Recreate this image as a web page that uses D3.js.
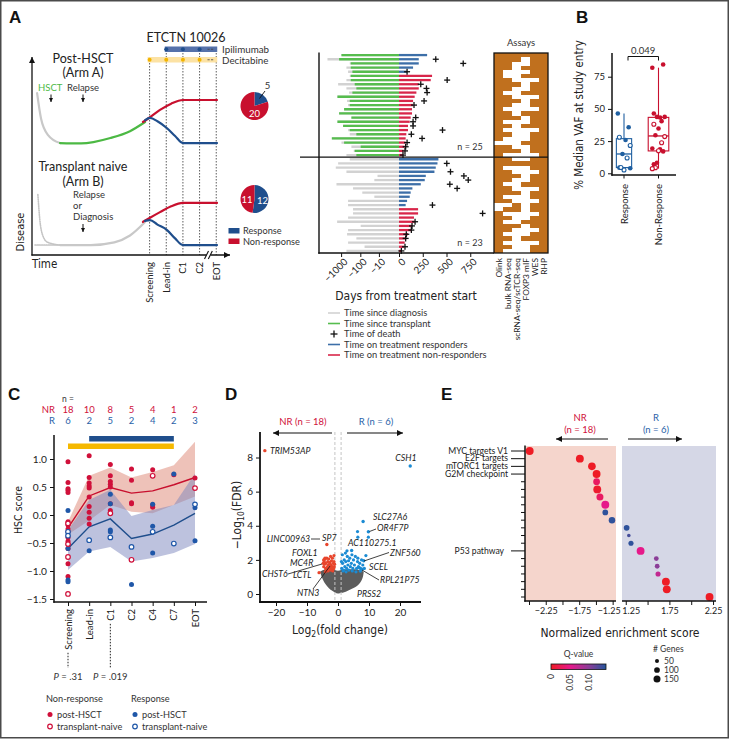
<!DOCTYPE html>
<html>
<head>
<meta charset="utf-8">
<script src="https://cdn.jsdelivr.net/npm/d3@7/dist/d3.min.js"></script>
<style>
html,body{margin:0;padding:0;background:#fff;}
svg{display:block;}
</style>
</head>
<body>
<svg id="fig" width="730" height="740"></svg>
<script>
// ================= DATA =================
// Panel A – schematic (time units 0-100, disease units 0-100)
const schemMilestones = ["Screening", "Lead-in", "C1", "C2", "EOT"];
const schemMilestoneTime = [60, 68.5, 77, 85.5, 94];
const ipiDoses = [1, 2, 3];
const deciDoses = [0, 1, 2, 3];
const armAPre = [[2.6, 83], [4.6, 70], [8.2, 61.5], [14.3, 57.4]];
const armAPost = [[14.3, 57.4], [25, 57.2], [40, 60], [50, 63.5], [57.7, 68.2]];
const armANonResp = [[56.6, 68.2], [60, 70.5], [65.3, 74.4], [71, 77.6], [77, 79.5], [94.4, 79.5]];
const armAResp = [[57.7, 69.2], [60.2, 70.3], [64, 68.6], [68.9, 65], [73, 61], [77, 57.4], [94.4, 57.4]];
const armBPreDotted = [[3, 31], [4, 18], [5.5, 10], [8, 6.5], [14.3, 5.1]];
const armBBaseDotted = [[1.5, 5.1], [14.3, 5.1]];
const armBPre = [[14.3, 5.1], [30, 5.1], [42, 6.5], [50, 10], [57.7, 16.9]];
const armBNonResp = [[56.6, 17], [60, 19], [65.3, 22], [71, 25], [77, 26.7], [94.4, 26.7]];
const armBResp = [[57.7, 17.5], [60.2, 17.9], [64, 15.6], [68.9, 12.8], [73, 8.5], [77, 5.1], [94.4, 5.1]];
const pieCategories = ["Response", "Non-response"];
const pieArmA = [5, 20];
const pieArmB = [12, 11];

// Panel A – swimmer plot (days)
const swimDiagnosis = [960,5100,356,530,435,356,530,1430,530,385,1550,490,435,700,1270,292,1550,790,435,356,3020,960,292,221,530,
  356,1430,1890,530,12,18,1740,240,79,18,435,435,240,240,435,1610,96,435,490,161,435,60,530];
const swimTransplant = [960,1270,316,316,259,316,316,196,161,259,1550,356,356,700,1270,292,1550,790,356,161,3020,700,96,196,161,
  null,null,null,null,null,null,null,null,null,null,null,null,null,null,null,null,null,null,null,null,null,null,null];
const swimTreatment = [296,208,208,148,85,348,334,208,208,183,165,148,148,137,137,123,113,95,95,77,70,70,60,49,42,
  415,405,387,373,282,271,229,141,123,113,85,70,201,201,158,165,141,130,95,77,60,53,25];
const swimResponse = [1,1,1,1,1,0,0,0,0,0,0,0,0,0,0,0,0,0,0,0,0,0,0,0,0,
  1,1,1,1,1,1,1,1,1,1,1,1,0,0,0,0,0,0,0,0,0,0,0];
const swimDeath = [null,387,676,null,85,null,507,229,289,296,null,264,158,null,null,176,148,148,458,130,243,85,70,63,42,
  null,503,null,542,683,729,535,612,null,null,null,352,null,880,null,169,137,130,77,70,null,63,25];
const swimTicks = [-1000, -100, -10, 0, 250, 500, 750];
const assayNames = ["Olink", "bulk RNA-seq", "scRNA-seq/scTCR-seq", "FOXP3 mIF", "WES", "RHP"];
const assayMatrix = ["111111","111011","110011","110111","100011","100111","110001","111011","110011","100111",
  "110001","111011","110011","100001","110111","111011","100011","110111","100001","110011","100011","000111",
  "110011","111011","100001",
  "110011","111111","100011","110001","111011","110011","100111","110001","111011","100011","110001","001011",
  "011011","100001","110011","100111","111011","110001","100011","110111","100001","110011","100011"];

// Panel B – median VAF (%)
const bGroups = ["Response", "Non-Response"];
const bRespPost = [46.4, 35.8, 25.8, 15, 4.4, 3.9];
const bRespNaive = [28, 21.6, 11.9, 2.6, 4.5];
const bNRPost = [82, 84.5, 43.3, 43.8, 46.4, 43.8, 40.5, 34.8, 29.5, 19.3, 17, 18.6, 8.2, 7];
const bNRNaive = [38.1, 28.5, 23.7, 17.5, 4.4, 3.6];
const bTicks = [0, 25, 50, 75];
const bPValue = "0.049";

// Panel C – HSC score
const cTimes = ["Screening", "Lead-in", "C1", "C2", "C4", "C7", "EOT"];
const cNRn = [18, 10, 8, 5, 4, 1, 2];
const cRn = [6, 2, 5, 2, 4, 2, 3];
const cNRmean = [-0.23, 0.34, 0.49, 0.39, 0.43, 0.54, 0.67];
const cNRlo = [-0.35, -0.10, 0.18, 0.06, 0.03, 0.18, 0.33];
const cNRhi = [-0.12, 0.70, 0.85, 0.67, 0.77, 0.89, 1.31];
const cRmean = [-0.60, -0.21, -0.07, -0.42, -0.34, -0.18, 0.03];
const cRlo = [-0.98, -0.65, -0.57, -0.83, -0.77, -0.68, -0.52];
const cRhi = [-0.27, 0.27, 0.45, -0.02, 0.09, 0.18, 0.74];
const cNRpost = [[0,0.95],[0,0.58],[0,0.47],[0,0.44],[0,0.40],[0,-0.12],[0,-0.18],[0,-0.25],[0,-0.30],[0,-0.40],[0,-0.47],[0,-0.60],[0,-0.87],[0,-1.10],
  [1,1.06],[1,0.67],[1,0.57],[1,0.52],[1,0.48],[1,0.32],[1,0.15],[1,0.05],[1,-0.06],[1,-0.16],
  [2,0.90],[2,0.70],[2,0.60],[2,0.55],[2,0.50],[2,0.20],[2,0.08],
  [3,0.82],[3,0.62],[3,0.22],[3,0.20],[4,0.81],[4,0.18],[4,0.14],[5,0.72],[6,0.66]];
const cNRnaive = [[0,-0.15],[0,-0.52],[0,-0.75],[0,-1.41],[2,0.03],[3,-0.80],[4,0.70],[6,0.48]];
const cRpost = [[0,0.08],[0,-0.60],[0,-1.16],[0,-1.19],[1,-0.64],[2,0.37],[2,0.20],[2,-0.27],[2,-0.30],[3,-1.24],
  [4,0.19],[4,-0.20],[4,-0.68],[5,0.73],[6,0.13],[6,-0.46]];
const cRnaive = [[0,-0.30],[0,-0.37],[1,-0.45],[2,-0.40],[3,-0.57],[4,-0.30],[5,-0.51],[6,0.19]];
const cTicks = [-1.5, -1, -0.5, 0, 0.5, 1];
const cPValues = [["Screening", ".31"], ["C1", ".019"]];

// Panel D – volcano
const dBlobFC = [-5.8,-5,-4,-3,-2,-1,0,1,2,3,4,5,6,7,8,8.3];
const dBlobLow = [1.3,0.85,0.55,0.35,0.2,0.08,0.02,0.05,0.1,0.18,0.27,0.35,0.45,0.6,0.9,1.3];
const dBlobHigh = [1.3,1.4,1.45,1.45,1.45,1.4,1.35,1.4,1.45,1.45,1.45,1.45,1.45,1.4,1.35,1.3];
const dRedPts = [[-4.5,1.95],[-4.2,2.05],[-3.9,1.8],[-3.6,2.1],[-3.3,1.9],[-3.0,2.05],[-2.7,1.75],[-2.4,2.2],[-2.1,1.95],
  [-1.8,2.1],[-1.5,1.8],[-1.2,1.6],[-4.6,1.6],[-4.0,1.5],[-3.4,1.6],[-2.9,1.45],[-2.5,1.55],[-2.0,1.5],[-1.6,1.45],
  [-1.3,1.9],[-4.3,1.75],[-3.8,1.4],[-3.1,1.7],[-2.6,1.85],[-2.2,1.7],[-1.9,1.6],[-1.4,1.5],[-1.1,1.75],[-3.5,1.45],
  [-4.8,1.8],[-2.3,1.4],[-1.7,1.35],[-1.3,2.25],[-3.2,1.35],[-4.1,1.3]];
const dBluePts = [[1.2,1.5],[1.5,1.8],[1.8,1.4],[2.0,2.0],[2.2,1.6],[2.5,1.9],[2.8,1.5],[3.0,2.2],[3.2,1.7],[3.5,1.4],
  [3.8,2.1],[4.0,1.6],[4.3,1.8],[4.8,1.5],[5.0,2.0],[5.3,1.7],[5.6,2.2],[6.0,1.5],[6.3,1.9],[6.6,1.6],[7.0,1.8],
  [7.3,1.5],[7.6,2.0],[8.0,1.7],[8.5,1.5],[1.4,2.3],[2.9,2.53],[2.4,2.4],[6.3,3.66],[6.4,3.33],[9.8,3.33],[9.0,2.25],
  [6.4,2.1],[1.6,1.35],[2.6,1.3],[4.6,1.35],[5.8,1.3],[3.4,1.95],[4.5,2.3],[1.1,1.9]];
const dGenes = ["TRIM53AP","CSH1","SLC27A6","OR4F7P","AC110275.1","ZNF560","SCEL","RPL21P75","PRSS2","SP7","LINC00963","FOXL1","MC4R","CHST6","LCTL","NTN3"];
const dGeneFC = [-23.6, 23.3, 8.1, 9.8, 4.4, 8.3, 6.8, 7.8, 7.2, -3.6, -4.2, -4.6, -4.4, -2.6, -6.1, -2.0];
const dGeneFDR = [8.4, 7.5, 4.25, 3.65, 2.55, 1.95, 1.55, 1.45, 1.35, 2.9, 2.1, 2.0, 1.85, 1.75, 1.25, 1.55];
const dXTicks = [-20, -10, 0, 10, 20];
const dYTicks = [0, 2, 4, 6, 8];

// Panel E – GSEA
const eTerms = ["MYC targets V1","E2F targets","mTORC1 targets","G2M checkpoint","","","","","","","","","","P53 pathway","","","","","",""];
const eNES = [-2.49,-1.74,-1.56,-1.49,-1.49,-1.48,-1.44,-1.36,-1.36,-1.26,1.26,1.285,1.31,1.42,1.60,1.61,1.62,1.71,1.72,2.21];
const eQ = [0,0,0,0,0.03,0.005,0.03,0.05,0.14,0.14,0.14,0.13,0.14,0.05,0.10,0.10,0.07,0,0,0];
const eGenes = [190,190,180,190,140,190,150,190,100,130,100,40,80,190,70,70,80,190,190,190];
const eLeftTicks = [-2.5,-2.25,-2,-1.75,-1.5,-1.25];
const eRightTicks = [1.25,1.5,1.75,2,2.25];
const eLabelled = [-2.25,-1.75,-1.25,1.25,1.75,2.25];
const eQTicks = [0, 0.05, 0.10];
const eSizeTicks = [50, 100, 150];

// ================= DRAWING =================
const svg = d3.select("#fig");
const FONT = "Lato, 'Open Sans', 'DejaVu Sans', sans-serif";
const NARROW = "'Liberation Sans Narrow', 'Arial Narrow', 'DejaVu Sans Condensed', 'Roboto Condensed', Roboto, sans-serif";
const RED = "#c8102e", BLUE = "#1f4e8c", TXTRED = "#d0103a", TXTBLUE = "#2a62a8";

svg.append("rect").attr("width", 730).attr("height", 740).attr("fill", "#fff");
svg.append("rect").attr("x", 0.75).attr("y", 0.75).attr("width", 727.5).attr("height", 737)
  .attr("fill", "none").attr("stroke", "#4a4a4a").attr("stroke-width", 1.5);

const defs = svg.append("defs");
function addMarker(id, color, w, h) {
  defs.append("marker").attr("id", id).attr("viewBox", "0 0 10 10").attr("refX", 10).attr("refY", 5)
    .attr("markerWidth", w).attr("markerHeight", h).attr("markerUnits", "userSpaceOnUse").attr("orient", "auto")
    .append("path").attr("d", "M0,0L10,5L0,10Z").attr("fill", color);
}
addMarker("arrK", "#111", 7, 6);
addMarker("arrS", "#111", 4.5, 4.5);

function txt(g, x, y, s, o = {}) {
  const t = g.append("text").attr("x", x).attr("y", y).text(s)
    .attr("font-size", o.size || 10).attr("font-family", o.fam || FONT)
    .attr("fill", o.fill || "#222").attr("text-anchor", o.anchor || "start");
  if (o.weight) t.attr("font-weight", o.weight);
  if (o.style) t.attr("font-style", o.style);
  if (o.rot != null) t.attr("transform", `rotate(${o.rot},${x},${y})`);
  return t;
}
function ln(g, x1, y1, x2, y2, c = "#111", w = 1) {
  return g.append("line").attr("x1", x1).attr("y1", y1).attr("x2", x2).attr("y2", y2)
    .attr("stroke", c).attr("stroke-width", w);
}
function styleAxis(g, size) {
  g.attr("color", "#111");
  g.selectAll("text").attr("font-size", size).attr("font-family", FONT).attr("fill", "#222");
  g.selectAll(".domain").remove();
}

// panel letters
[["A", 9, 23], ["B", 576, 23], ["C", 8, 400], ["D", 225, 400], ["E", 441, 400]].forEach(([l, x, y]) =>
  txt(svg, x, y, l, { size: 17, weight: "bold", fam: "'Liberation Sans', Arial, sans-serif", fill: "#111" }));

// ---------- Panel A schematic ----------
const gA = svg.append("g");
const ax = d3.scaleLinear().domain([0, 100]).range([32, 228]);
const ay = d3.scaleLinear().domain([0, 100]).range([255, 60]);
const lineA = d3.line().x(d => ax(d[0])).y(d => ay(d[1])).curve(d3.curveMonotoneX);

schemMilestones.forEach((m, i) => {
  const x = ax(schemMilestoneTime[i]);
  gA.append("line").attr("x1", x).attr("x2", x).attr("y1", i === 0 ? 57 : 47).attr("y2", 255)
    .attr("stroke", "#333").attr("stroke-width", 0.8).attr("stroke-dasharray", "1.5,1.5");
  txt(gA, x + 3.5, 262, m, { size: 9.5, anchor: "end", rot: -90 });
});
// drug bars
const xLead = ax(schemMilestoneTime[1]), xScr = ax(schemMilestoneTime[0]), xEot = ax(schemMilestoneTime[4]);
gA.append("rect").attr("x", xLead - 1.5).attr("y", 46.5).attr("width", xEot - xLead + 2.5).attr("height", 5.5).attr("fill", "#5571aa");
gA.append("rect").attr("x", xScr - 2).attr("y", 57).attr("width", xEot - xScr + 3).attr("height", 5.5).attr("fill", "#fce2a4");
ipiDoses.forEach(i => gA.append("circle").attr("cx", ax(schemMilestoneTime[i])).attr("cy", 49.25).attr("r", 2).attr("fill", "#1f4e8c"));
deciDoses.forEach(i => gA.append("circle").attr("cx", ax(schemMilestoneTime[i])).attr("cy", 59.75).attr("r", 2).attr("fill", "#f2b400"));
[[207.5, 49.25], [207.5, 59.75]].forEach(([x, y]) => { ln(gA, x, y, x + 2.2, y, "#444", 0.8); ln(gA, x + 3.5, y, x + 5.7, y, "#444", 0.8); });
txt(gA, 186, 42, "ETCTN 10026", { size: 12.5, anchor: "middle" });
txt(gA, 222, 53, "Ipilimumab", { size: 9.8, fill: "#333" });
txt(gA, 222, 63.5, "Decitabine", { size: 9.8, fill: "#333" });

// axes
ln(gA, 32, 255.6, 32, 57, "#111", 1.3).attr("marker-end", "url(#arrK)");
ln(gA, 31.4, 255, 230, 255, "#111", 1.3).attr("marker-end", "url(#arrK)");
gA.append("rect").attr("x", 206.5).attr("y", 250).attr("width", 4).attr("height", 10).attr("fill", "#fff");
ln(gA, 204.5, 259, 208.5, 251, "#111", 1.1);
ln(gA, 208.3, 259, 212.3, 251, "#111", 1.1);
txt(gA, 32, 268, "Time", { size: 11.5, fam: NARROW });
txt(gA, 24, 232, "Disease", { size: 11, fam: NARROW, anchor: "middle", rot: -90 });

// arm A
txt(gA, 83, 63, "Post-HSCT", { size: 12.5, anchor: "middle" });
txt(gA, 83, 77, "(Arm A)", { size: 12.5, anchor: "middle" });
txt(gA, 38, 91, "HSCT", { size: 9.5, fill: "#4cb944" });
txt(gA, 67, 91, "Relapse", { size: 9.5, fill: "#333" });
ln(gA, 51, 94.5, 51, 102, "#111", 1).attr("marker-end", "url(#arrS)");
ln(gA, 83, 94.5, 83, 102, "#111", 1).attr("marker-end", "url(#arrS)");
const curve = (d, c, w, dash) => {
  const p = gA.append("path").attr("d", lineA(d)).attr("fill", "none").attr("stroke", c).attr("stroke-width", w).attr("stroke-linecap", "round");
  if (dash) p.attr("stroke-dasharray", dash);
};
curve(armAPre, "#c8c8c8", 2.2);
curve(armAPost, "#4cb944", 2.2);
curve(armANonResp, RED, 2.2);
curve(armAResp, BLUE, 2.2);
// arm B
txt(gA, 83, 171, "Transplant naive", { size: 12.5, anchor: "middle" });
txt(gA, 83, 186, "(Arm B)", { size: 12.5, anchor: "middle" });
txt(gA, 73, 198, "Relapse", { size: 9.5, fill: "#333" });
txt(gA, 73, 209, "or", { size: 9.5, fill: "#333" });
txt(gA, 73, 220, "Diagnosis", { size: 9.5, fill: "#333" });
ln(gA, 83, 224, 83, 232, "#111", 1).attr("marker-end", "url(#arrS)");
curve(armBPreDotted, "#c4c4c4", 1.6, "1,1.2");
curve(armBBaseDotted, "#c4c4c4", 1.6, "1,1.2");
curve(armBPre, "#c8c8c8", 2.2);
curve(armBNonResp, RED, 2.2);
curve(armBResp, BLUE, 2.2);

// pies
const pie = d3.pie().sort(null);
const arcP = d3.arc().innerRadius(0).outerRadius(14);
[[pieArmA, 106], [pieArmB, 199]].forEach(([vals, cy]) => {
  const g = gA.append("g").attr("transform", `translate(254.5,${cy})`);
  g.selectAll("path").data(pie(vals)).join("path").attr("d", arcP)
    .attr("fill", (d, i) => i === 0 ? "#1f4e8c" : "#c8102e");
});
txt(gA, 254.5, 117, String(pieArmA[1]), { size: 9.5, anchor: "middle", fill: "#fff" });
txt(gA, 267.5, 89, String(pieArmA[0]), { size: 9.5, anchor: "middle", fill: "#333" });
ln(gA, 265, 91, 259.5, 98.5, "#111", 0.9);
txt(gA, 247, 202.5, String(pieArmB[1]), { size: 9.5, anchor: "middle", fill: "#fff" });
txt(gA, 262.5, 203.5, String(pieArmB[0]), { size: 9.5, anchor: "middle", fill: "#fff" });
pieCategories.forEach((c, i) => {
  gA.append("rect").attr("x", 228.5).attr("y", 228 + i * 10.5).attr("width", 11).attr("height", 5.5)
    .attr("fill", i === 0 ? "#1f4e8c" : "#c8102e");
  txt(gA, 243, 234 + i * 10.5, c, { size: 9.2, fill: "#333" });
});

// ---------- Panel A swimmer ----------
const gS = svg.append("g");
const sxNeg = d3.scaleSymlog().domain([-14000, 0]).range([319, 399]);
const sxPos = d3.scaleLinear().domain([0, 1000]).range([399, 494]);
const sx = v => v < 0 ? sxNeg(v) : sxPos(v);
const sy = d3.scaleBand().domain(d3.range(swimTreatment.length)).range([53, 253]);
const rowY = i => sy(i) + sy.bandwidth() / 2;
const swimCol = { diag: "#d2d2d2", tx: "#56bd4e", resp: "#3d6fa8", nonresp: "#d8264a" };
swimTreatment.forEach((t, i) => {
  const y = rowY(i);
  ln(gS, sx(-swimDiagnosis[i]), y, sx(0), y, swimCol.diag, 2.3);
  if (swimTransplant[i] != null) ln(gS, sx(-swimTransplant[i]), y, sx(0), y, swimCol.tx, 2.3);
  ln(gS, sx(0), y, sx(t), y, swimResponse[i] ? swimCol.resp : swimCol.nonresp, 2.3);
});
swimDeath.forEach((d, i) => {
  if (d == null) return;
  const x = sx(d), y = rowY(i);
  ln(gS, x - 3, y, x + 3, y, "#111", 1.3);
  ln(gS, x, y - 3, x, y + 3, "#111", 1.3);
});
ln(gS, 319, 52.5, 319, 253.7, "#111", 1.4);
ln(gS, 318.3, 253, 494, 253, "#111", 1.4);
const swAxN = gS.append("g").attr("transform", "translate(0,253)")
  .call(d3.axisBottom(sxNeg).tickValues(swimTicks.filter(v => v < 0)).tickFormat(d3.format("d")).tickSize(4));
const swAxP = gS.append("g").attr("transform", "translate(0,253)")
  .call(d3.axisBottom(sxPos).tickValues(swimTicks.filter(v => v >= 0)).tickFormat(d3.format("d")).tickSize(4));
[swAxN, swAxP].forEach(g => {
  styleAxis(g, 9.8);
  g.selectAll("text").attr("transform", "rotate(-45)").attr("text-anchor", "end").attr("dx", "-0.2em").attr("dy", "0.45em");
});
txt(gS, 406, 300, "Days from treatment start", { size: 12, fam: NARROW, anchor: "middle" });
txt(gS, 470, 150, "n = 25", { size: 9, anchor: "middle", fill: "#333" });
txt(gS, 470, 246, "n = 23", { size: 9, anchor: "middle", fill: "#333" });

// assays heatmap
const hx = d3.scaleBand().domain(d3.range(assayNames.length)).range([494, 548]);
assayMatrix.forEach((row, i) => {
  row.split("").forEach((v, j) => {
    if (v === "1") gS.append("rect").attr("x", hx(j)).attr("y", sy(i)).attr("width", hx.bandwidth())
      .attr("height", sy.bandwidth() + 0.2).attr("fill", "#c0701e").attr("shape-rendering", "crispEdges");
  });
});
gS.append("rect").attr("x", 494).attr("y", 53).attr("width", 54).attr("height", 200)
  .attr("fill", "none").attr("stroke", "#111").attr("stroke-width", 1.3);
ln(gS, 300, 157.2, 548, 157.2, "#111", 1.3);
txt(gS, 521, 46, "Assays", { size: 9.5, anchor: "middle", fill: "#333" });
assayNames.forEach((n, j) => txt(gS, hx(j) + hx.bandwidth() / 2 + 3, 258, n, { size: 8.4, anchor: "end", rot: -90, fill: "#222" }));

// swimmer legend
const swLegend = [["line", swimCol.diag, "Time since diagnosis"], ["line", swimCol.tx, "Time since transplant"],
  ["plus", "#111", "Time of death"], ["line", swimCol.resp, "Time on treatment responders"],
  ["line", swimCol.nonresp, "Time on treatment non-responders"]];
swLegend.forEach(([k, c, s], i) => {
  const y = 313 + i * 10.5;
  if (k === "line") ln(gS, 328, y, 340, y, c, 1.6);
  else { ln(gS, 330.5, y, 337.5, y, c, 1.3); ln(gS, 334, y - 3.5, 334, y + 3.5, c, 1.3); }
  txt(gS, 344, y + 3.3, s, { size: 9.3, fill: "#333" });
});

// ---------- Panel B ----------
const gB = svg.append("g");
const by = d3.scaleLinear().domain([0, 75]).range([173.3, 76.7]);
const bx = d3.scalePoint().domain(bGroups).range([624, 658.5]);
const bAx = gB.append("g").attr("transform", "translate(612,0)").call(d3.axisLeft(by).tickValues(bTicks).tickSize(4));
styleAxis(bAx, 9.5);
ln(gB, 612, 53, 612, 175.7, "#111", 1.5);
ln(gB, 611.3, 175, 676, 175, "#111", 1.5);
txt(gB, 583, 115, "% Median VAF at study entry", { size: 11.5, fam: NARROW, anchor: "middle", rot: -90 });
const bSets = [[bRespPost, bRespNaive, "#1f5fa0"], [bNRPost, bNRNaive, "#c8102e"]];
bSets.forEach(([post, naive, col], gi) => {
  const cxB = bx(bGroups[gi]);
  const all = post.concat(naive).sort(d3.ascending);
  const q1 = d3.quantile(all, 0.25), med = d3.quantile(all, 0.5), q3 = d3.quantile(all, 0.75);
  const iqr = q3 - q1;
  const lo = d3.min(all.filter(v => v >= q1 - 1.5 * iqr)), hi = d3.max(all.filter(v => v <= q3 + 1.5 * iqr));
  const w = 4.6 * Math.sqrt(all.length);
  ln(gB, cxB, by(hi), cxB, by(q3), col, 1.1);
  ln(gB, cxB, by(q1), cxB, by(lo), col, 1.1);
  gB.append("rect").attr("x", cxB - w / 2).attr("y", by(q3)).attr("width", w).attr("height", by(q1) - by(q3))
    .attr("fill", "none").attr("stroke", col).attr("stroke-width", 1.1);
  ln(gB, cxB - w / 2, by(med), cxB + w / 2, by(med), col, 1.3);
  ln(gB, cxB, 175, cxB, 178.5, "#111", 1);
  const jit = i => (((i * 7) % 9) - 4) * 1.55;
  post.forEach((v, i) => gB.append("circle").attr("cx", cxB + jit(i)).attr("cy", by(v)).attr("r", 2.3).attr("fill", col));
  naive.forEach((v, i) => gB.append("circle").attr("cx", cxB + jit(i + 4)).attr("cy", by(v)).attr("r", 2)
    .attr("fill", "#fff").attr("stroke", col).attr("stroke-width", 1.1));
  txt(gB, cxB + 3.5, 184, bGroups[gi], { size: 9.5, anchor: "end", rot: -90 });
});
gB.append("path").attr("d", `M${bx(bGroups[0]) + 4},60.5V56.5H${bx(bGroups[1])}V60.5`).attr("fill", "none").attr("stroke", "#111").attr("stroke-width", 1);
txt(gB, (bx(bGroups[0]) + 4 + bx(bGroups[1])) / 2, 54, bPValue, { size: 9.5, anchor: "middle", fill: "#333" });

// ---------- Panel C ----------
const gC = svg.append("g");
const cx = d3.scalePoint().domain(cTimes).range([68, 195]);
const cy = d3.scaleLinear().domain([-1.5, 1]).range([599, 459]);
txt(gC, 62, 402, "n =", { size: 8.5, fill: "#333" });
txt(gC, 55, 413, "NR", { size: 9.5, anchor: "end", fill: TXTRED });
txt(gC, 55, 423.5, "R", { size: 9.5, anchor: "end", fill: TXTBLUE });
cTimes.forEach((t, i) => {
  txt(gC, cx(t), 413, String(cNRn[i]), { size: 9.5, anchor: "middle", fill: TXTRED });
  txt(gC, cx(t), 423.5, String(cRn[i]), { size: 9.5, anchor: "middle", fill: TXTBLUE });
});
gC.append("rect").attr("x", cx("Lead-in")).attr("y", 436).attr("width", cx("C7") - cx("Lead-in")).attr("height", 5.5).attr("fill", "#1f4e8c");
gC.append("rect").attr("x", cx("Screening")).attr("y", 443.5).attr("width", cx("C7") - cx("Screening")).attr("height", 5.5).attr("fill", "#f5b800");
const areaC = (lo, hi) => d3.area().x((d, i) => cx(cTimes[i])).y0((d, i) => cy(lo[i])).y1((d, i) => cy(hi[i]))(cTimes);
gC.append("path").attr("d", areaC(cNRlo, cNRhi)).attr("fill", "#e0907f").attr("fill-opacity", 0.55);
gC.append("path").attr("d", areaC(cRlo, cRhi)).attr("fill", "#7c85bd").attr("fill-opacity", 0.5);
const lineC = arr => d3.line().x((d, i) => cx(cTimes[i])).y((d, i) => cy(arr[i]))(cTimes);
gC.append("path").attr("d", lineC(cNRmean)).attr("fill", "none").attr("stroke", RED).attr("stroke-width", 1.4);
gC.append("path").attr("d", lineC(cRmean)).attr("fill", "none").attr("stroke", BLUE).attr("stroke-width", 1.4);
const cPt = (arr, col, open) => arr.forEach(([ti, v]) => {
  const c = gC.append("circle").attr("cx", cx(cTimes[ti])).attr("cy", cy(v));
  if (open) c.attr("r", 2.3).attr("fill", "#fff").attr("stroke", col).attr("stroke-width", 1.2);
  else c.attr("r", 2.5).attr("fill", col);
});
cPt(cNRpost, "#d0103a", false);
cPt(cRpost, "#1f57a8", false);
cPt(cNRnaive, "#d0103a", true);
cPt(cRnaive, "#1f57a8", true);
const cAxY = gC.append("g").attr("transform", "translate(54,0)")
  .call(d3.axisLeft(cy).tickValues(cTicks).tickFormat(d3.format(".1f")).tickSize(4));
styleAxis(cAxY, 10.2);
const cAxX = gC.append("g").attr("transform", "translate(0,602)").call(d3.axisBottom(cx).tickSize(4).tickFormat(""));
styleAxis(cAxX, 9.5);
ln(gC, 54, 435, 54, 602.7, "#111", 1.5);
ln(gC, 53.3, 602, 207, 602, "#111", 1.5);
const cLabelEnd = {};
cTimes.forEach(t => {
  const el = txt(gC, cx(t) + 3.5, 609, t, { size: 9.5, anchor: "end", rot: -90 });
  cLabelEnd[t] = 609 + el.node().getComputedTextLength();
});
cPValues.forEach(([t, p]) => {
  gC.append("line").attr("x1", cx(t)).attr("x2", cx(t)).attr("y1", cLabelEnd[t] + 3).attr("y2", 668)
    .attr("stroke", "#222").attr("stroke-width", 1).attr("stroke-dasharray", "1.5,1.5");
  const tt = txt(gC, cx(t), 680, "", { size: 9.5, anchor: "middle", fill: "#333" });
  tt.append("tspan").attr("font-style", "italic").text("P");
  tt.append("tspan").text(" = " + p);
});
txt(gC, 22, 510, "HSC score", { size: 10.5, fam: NARROW, anchor: "middle", rot: -90 });
[["Non-response", 46, "#d0103a"], ["Response", 131, "#1f57a8"]].forEach(([lab, x, col]) => {
  txt(gC, x, 702, lab, { size: 9.2, fill: "#333" });
  gC.append("circle").attr("cx", x + 4).attr("cy", 714.5).attr("r", 2.5).attr("fill", col);
  gC.append("circle").attr("cx", x + 4).attr("cy", 726.5).attr("r", 2.3).attr("fill", "#fff").attr("stroke", col).attr("stroke-width", 1.2);
  txt(gC, x + 11, 718, "post-HSCT", { size: 9.2, fill: "#333" });
  txt(gC, x + 11, 730, "transplant-naive", { size: 9.2, fill: "#333" });
});

// ---------- Panel D ----------
const gD = svg.append("g");
const dx = d3.scaleLinear().domain([-20, 20]).range([276, 400]);
const dy = d3.scaleLinear().domain([0, 8]).range([594, 457.5]);
gD.append("path").attr("d", d3.area().x((d, i) => dx(dBlobFC[i])).y0((d, i) => dy(dBlobLow[i])).y1((d, i) => dy(dBlobHigh[i]))
  .curve(d3.curveBasis)(dBlobFC)).attr("fill", "#5c5c5c");
[-1, 1].forEach(v => gD.append("line").attr("x1", dx(v)).attr("x2", dx(v)).attr("y1", 432).attr("y2", 602)
  .attr("stroke", "#c4c4c4").attr("stroke-width", 1).attr("stroke-dasharray", "3,2"));
dRedPts.forEach(([f, q]) => gD.append("circle").attr("cx", dx(f)).attr("cy", dy(q)).attr("r", 1.6).attr("fill", "#e8452c"));
dBluePts.forEach(([f, q]) => gD.append("circle").attr("cx", dx(f)).attr("cy", dy(q)).attr("r", 1.6).attr("fill", "#1b8bd3"));
const dLayout = {
  TRIM53AP: { x: 270, y: 454, a: "start" }, CSH1: { x: 406, y: 461, a: "middle" },
  SLC27A6: { x: 373, y: 520, a: "start" }, OR4F7P: { x: 377, y: 531, a: "start", l: [369.5, 531.5, 376, 529] },
  "AC110275.1": { x: 348, y: 546, a: "start" }, ZNF560: { x: 390, y: 556, a: "start", l: [389, 552.5, 364, 561] },
  SCEL: { x: 369, y: 570, a: "start" }, RPL21P75: { x: 380, y: 583, a: "start", l: [379, 580, 362, 570] },
  PRSS2: { x: 357, y: 597, a: "start" }, SP7: { x: 322, y: 541, a: "start" },
  LINC00963: { x: 310, y: 542, a: "end", l: [311, 539, 320, 539] }, FOXL1: { x: 292, y: 556, a: "start" },
  MC4R: { x: 290, y: 566, a: "start" }, CHST6: { x: 262, y: 577, a: "start", l: [288, 574, 322, 564] },
  LCTL: { x: 293, y: 578, a: "start" }, NTN3: { x: 297, y: 596, a: "start", l: [313, 589, 330, 566] }
};
dGenes.forEach((g, i) => {
  gD.append("circle").attr("cx", dx(dGeneFC[i])).attr("cy", dy(dGeneFDR[i])).attr("r", 1.7)
    .attr("fill", dGeneFC[i] < 0 ? "#e8452c" : "#1b8bd3");
  const L = dLayout[g];
  if (L.l) ln(gD, L.l[0], L.l[1], L.l[2], L.l[3], "#111", 0.8);
  txt(gD, L.x, L.y, g, { size: 8.8, anchor: L.a, style: "italic", fill: "#222" });
});
const dAxY = gD.append("g").attr("transform", "translate(260,0)").call(d3.axisLeft(dy).tickValues(dYTicks).tickSize(4));
styleAxis(dAxY, 10);
const dAxX = gD.append("g").attr("transform", "translate(0,602)").call(d3.axisBottom(dx).tickValues(dXTicks).tickSize(4));
styleAxis(dAxX, 10);
ln(gD, 260, 432, 260, 602.9, "#111", 1.8);
ln(gD, 259.1, 602, 421, 602, "#111", 1.8);
const dYT = txt(gD, 241, 515, "", { size: 12, fam: NARROW, anchor: "middle", rot: -90 });
dYT.append("tspan").text("\u2212Log");
dYT.append("tspan").attr("font-size", 8.5).attr("dy", 3).text("10");
dYT.append("tspan").attr("dy", -3).text("(FDR)");
const dXT = txt(gD, 340, 634, "", { size: 12, fam: NARROW, anchor: "middle" });
dXT.append("tspan").text("Log");
dXT.append("tspan").attr("font-size", 8.5).attr("dy", 3).text("2");
dXT.append("tspan").attr("dy", -3).text("(fold change)");
txt(gD, 303, 425, "NR (n = 18)", { size: 9.5, anchor: "middle", fill: TXTRED });
txt(gD, 376, 425, "R (n = 6)", { size: 9.5, anchor: "middle", fill: TXTBLUE });
ln(gD, 332, 433, 273, 433, "#111", 1.1).attr("marker-end", "url(#arrK)");
ln(gD, 347, 433, 403, 433, "#111", 1.1).attr("marker-end", "url(#arrK)");

// ---------- Panel E ----------
const gE = svg.append("g");
const eLeft = d3.scaleLinear().domain([-2.56, -1.2]).range([525, 616]);
const eRight = d3.scaleLinear().domain([1.207, 2.284]).range([622, 716]);
const ex = v => v < 0 ? eLeft(v) : eRight(v);
const eRow = d3.scalePoint().domain(d3.range(eNES.length)).range([451, 597]);
const qColor = d3.scaleLinear().domain([0, 0.05, 0.10, 0.145]).range(["#ee1c25", "#e6198a", "#8b3d98", "#23559b"]);
const rSize = d3.scaleSqrt().domain([0, 150]).range([0, 3.5]);
gE.append("rect").attr("x", 525).attr("y", 446).attr("width", 91).attr("height", 155).attr("fill", "#f5d5cc");
gE.append("rect").attr("x", 622).attr("y", 446).attr("width", 94).attr("height", 155).attr("fill", "#d5d7e6");
eNES.forEach((v, i) => {
  const y = eRow(i);
  ln(gE, eTerms[i] ? 511 : 521, y, 525, y, "#111", 1);
  if (eTerms[i]) txt(gE, eTerms[i] === "P53 pathway" ? 504 : 508, y + 2.8, eTerms[i], { size: 8.6, anchor: "end", fill: "#222" });
});
eNES.forEach((v, i) => gE.append("circle").attr("cx", ex(v)).attr("cy", eRow(i)).attr("r", rSize(eGenes[i])).attr("fill", qColor(eQ[i])));
const eAxL = gE.append("g").attr("transform", "translate(0,601)").call(d3.axisBottom(eLeft).tickValues(eLeftTicks).tickSize(4)
  .tickFormat(d => eLabelled.includes(d) ? d3.format(".2f")(d) : ""));
const eAxR = gE.append("g").attr("transform", "translate(0,601)").call(d3.axisBottom(eRight).tickValues(eRightTicks).tickSize(4)
  .tickFormat(d => eLabelled.includes(d) ? d3.format(".2f")(d) : ""));
styleAxis(eAxL, 9); styleAxis(eAxR, 9);
eAxL.selectAll(".tick").filter(d => d === -1.25).select("text").attr("dx", "-4");
eAxR.selectAll(".tick").filter(d => d === 1.25).select("text").attr("dx", "5");
ln(gE, 525, 445.5, 525, 601.8, "#111", 1.5);
ln(gE, 524.3, 601, 616, 601, "#111", 1.5);
ln(gE, 622, 601, 716, 601, "#111", 1.5);
txt(gE, 620, 637, "Normalized enrichment score", { size: 12, fam: NARROW, anchor: "middle" });
txt(gE, 580, 421, "NR", { size: 9.5, anchor: "middle", fill: TXTRED });
txt(gE, 580, 433, "(n = 18)", { size: 9.5, anchor: "middle", fill: TXTRED });
txt(gE, 656, 421, "R", { size: 9.5, anchor: "middle", fill: TXTBLUE });
txt(gE, 656, 433, "(n = 6)", { size: 9.5, anchor: "middle", fill: TXTBLUE });
ln(gE, 608, 439, 556, 439, "#111", 1.1).attr("marker-end", "url(#arrK)");
ln(gE, 628, 439, 682, 439, "#111", 1.1).attr("marker-end", "url(#arrK)");
// Q-value colour bar
const qx = d3.scaleLinear().domain([0, 0.145]).range([551, 606]);
const grad = defs.append("linearGradient").attr("id", "qgrad");
qColor.domain().forEach(d => grad.append("stop").attr("offset", d / 0.145).attr("stop-color", qColor(d)));
txt(gE, 578.5, 657, "Q-value", { size: 8.5, anchor: "middle", fill: "#333" });
gE.append("rect").attr("x", qx(0)).attr("y", 664).attr("width", qx(0.145) - qx(0)).attr("height", 5.5)
  .attr("fill", "url(#qgrad)").attr("stroke", "#111").attr("stroke-width", 0.8);
eQTicks.forEach(t => txt(gE, qx(t) + 3, 674, t === 0 ? "0" : d3.format(".2f")(t), { size: 8.5, anchor: "end", rot: -90, fill: "#333" }));
txt(gE, 653, 652, "# Genes", { size: 8.5, anchor: "start", fill: "#333" });
eSizeTicks.forEach((s, i) => {
  gE.append("circle").attr("cx", 657).attr("cy", 661 + i * 9).attr("r", rSize(s)).attr("fill", "#111");
  txt(gE, 664, 664 + i * 9, String(s), { size: 8.5, fill: "#333" });
});
</script>
</body>
</html>
